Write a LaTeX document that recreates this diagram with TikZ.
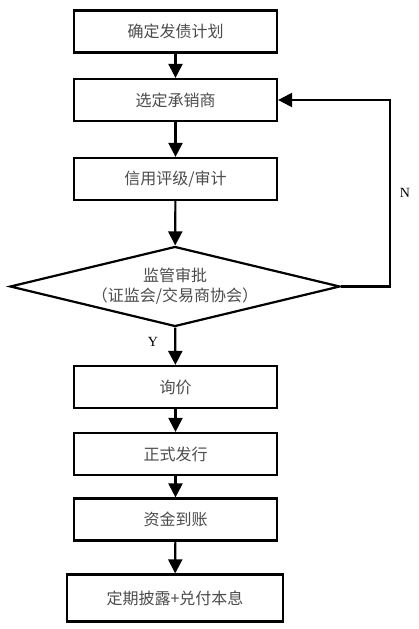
\documentclass[tikz,border=0pt]{standalone}
\usepackage{fontspec}
\setmainfont{Noto Sans CJK SC}
\newfontfamily\ynfont{Liberation Serif}
\usetikzlibrary{shapes.geometric,arrows.meta}

\begin{document}
\begin{tikzpicture}[x=1pt,y=-1pt,
        etapa/.style={draw,line width=2.2pt,minimum width=203pt,minimum height=42pt,
            inner sep=0pt,text=black!70,font=\fontsize{16}{20}\selectfont},
        decisao/.style={draw,diamond,line width=2.2pt,minimum width=330pt,minimum height=80pt,
            inner sep=0pt,aspect=4,align=center,text=black!70,font=\fontsize{16}{20}\selectfont},
        seta/.style={-{Triangle[length=14pt,width=14pt]},line width=2.2pt},
        rotulo/.style={font=\ynfont\fontsize{14}{16}\selectfont}]
        \fill[white] (0,0) rectangle (418,629);
        \useasboundingbox (0,0) rectangle (418,629);

        \node[etapa] (plano) at (175.5, 31.5) {确定发债计划};
        \node[etapa] (subscr) at (175.5, 100) {选定承销商};
        \node[etapa] (rating) at (175.5, 179) {信用评级/审计};
        \node[decisao] (aprov) at (175, 286.5) {监管审批\\（证监会/交易商协会）};
        \node[etapa] (cotacao) at (175.5, 387) {询价};
        \node[etapa] (emissao) at (175.5, 454) {正式发行};
        \node[etapa] (fundos) at (175.5, 519.5) {资金到账};
        \node[etapa,minimum width=216pt,minimum height=47pt] (pagto) at (175, 598) {定期披露+兑付本息};

        \draw[seta] (plano) -- (subscr);
        \draw[seta] (subscr) -- (rating);
        \draw[seta] (rating) -- (aprov);
        \draw[seta] (aprov) -- (cotacao);
        \draw[seta] (cotacao) -- (emissao);
        \draw[seta] (emissao) -- (fundos);
        \draw[seta] (fundos) -- (pagto);

        % volta quando reprovado
        \coordinate (canto) at (390, 100);
        \draw[seta] (aprov.east) -| (canto) -- (subscr.east);

        \node[rotulo] (sim) at (153, 342) {Y};
        \node[rotulo] (nao) at (405, 193) {N};
    \end{tikzpicture}
\end{document}
